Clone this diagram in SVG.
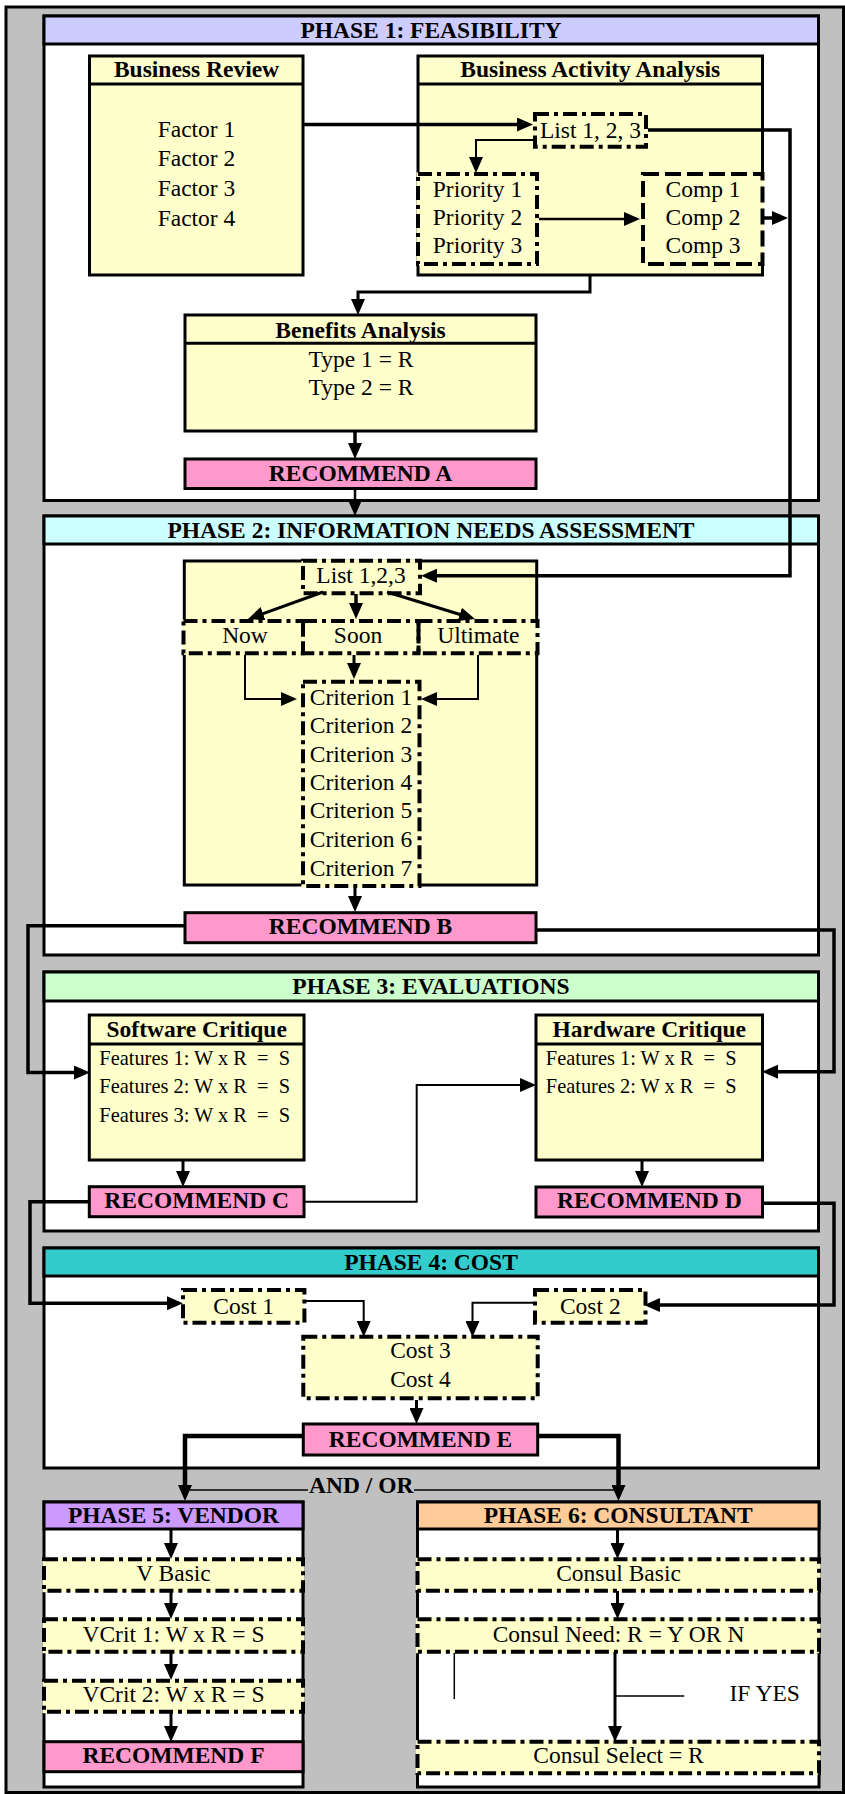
<svg xmlns="http://www.w3.org/2000/svg" width="845" height="1794" viewBox="0 0 845 1794">
<style>
  text { font-family: "Liberation Serif", "Times New Roman", serif; fill: #000; }
  .t { font-size: 23.5px; text-anchor: middle; }
  .b { font-size: 23.5px; font-weight: bold; text-anchor: middle; }
  .f { font-size: 20.4px; white-space: pre; }
  .frame { fill: #c0c0c0; stroke: #000; stroke-width: 3; }
  .phase { fill: #fff; stroke: #000; stroke-width: 3; }
  .box { fill: #ffffcc; stroke: #000; stroke-width: 3; }
  .rec { fill: #ff99cc; stroke: #000; stroke-width: 3; }
  .cover { fill: #ffffcc; }
  .dd { fill: #ffffcc; stroke: #000; stroke-width: 4; stroke-dasharray: 14 5 4 5; }
  .ddn { fill: none; stroke: #000; stroke-width: 4; stroke-dasharray: 14 5 4 5; }
  .ds { fill: none; stroke: #000; stroke-width: 4; stroke-dasharray: 16 6; }
  .sep { stroke: #000; stroke-width: 3; }
  .c { fill: none; stroke: #000; }
  .a { marker-end: url(#ah); }
  .k15 { stroke-width: 1.5; }
  .k2 { stroke-width: 2; }
  .k25 { stroke-width: 2.5; }
  .k3 { stroke-width: 3; }
  .k4 { stroke-width: 3.5; }
  .k45 { stroke-width: 4.5; }
</style>
<defs>
  <marker id="ah" viewBox="0 0 16 14" markerUnits="userSpaceOnUse" markerWidth="16" markerHeight="14" refX="8" refY="7" orient="auto">
    <path d="M0,0 L16,7 L0,14 Z" fill="#000"/>
  </marker>
</defs>

<!-- background frame -->
<rect class="frame" x="6" y="7" width="837.5" height="1785.5"/>

<!-- phase panels -->
<g id="phase1">
  <rect class="phase" x="44" y="16" width="774.5" height="484.5"/>
  <rect class="phase" x="44" y="16" width="774.5" height="28" style="fill:#ccccff"/>
  <text class="b" x="431" y="38.3">PHASE 1: FEASIBILITY</text>
</g>
<g id="phase2">
  <rect class="phase" x="44" y="516" width="774.5" height="439"/>
  <rect class="phase" x="44" y="516" width="774.5" height="28" style="fill:#ccffff"/>
  <text class="b" x="431" y="538">PHASE 2: INFORMATION NEEDS ASSESSMENT</text>
</g>
<g id="phase3">
  <rect class="phase" x="44" y="972" width="774.5" height="259"/>
  <rect class="phase" x="44" y="972" width="774.5" height="29" style="fill:#ccffcc"/>
  <text class="b" x="431" y="993.5">PHASE 3: EVALUATIONS</text>
</g>
<g id="phase4">
  <rect class="phase" x="44" y="1248" width="774.5" height="220"/>
  <rect class="phase" x="44" y="1248" width="774.5" height="28" style="fill:#33cccc"/>
  <text class="b" x="431" y="1269.5">PHASE 4: COST</text>
</g>
<g id="phase5">
  <rect class="phase" x="44" y="1502" width="259" height="285"/>
  <rect class="phase" x="44" y="1502" width="259" height="27" style="fill:#cc99ff"/>
  <text class="b" x="173.5" y="1522.7">PHASE 5: VENDOR</text>
</g>
<g id="phase6">
  <rect class="phase" x="417.5" y="1502" width="401.5" height="285"/>
  <rect class="phase" x="417.5" y="1502" width="401.5" height="27" style="fill:#ffcc99"/>
  <text class="b" x="618.2" y="1522.7">PHASE 6: CONSULTANT</text>
</g>

<!-- phase 1 nodes -->
<g id="business-review">
  <rect class="box" x="89.5" y="56" width="213.5" height="219"/>
  <line class="sep" x1="89.5" y1="84" x2="303" y2="84"/>
  <text class="b" x="196.5" y="77.3">Business Review</text>
  <text class="t" x="196.5" y="136.5">Factor 1</text>
  <text class="t" x="196.5" y="166.3">Factor 2</text>
  <text class="t" x="196.5" y="196.1">Factor 3</text>
  <text class="t" x="196.5" y="225.9">Factor 4</text>
</g>
<g id="business-activity">
  <rect class="box" x="418" y="56" width="344.5" height="219"/>
  <line class="sep" x1="418" y1="84" x2="762.5" y2="84"/>
  <text class="b" x="590.3" y="77.3">Business Activity Analysis</text>
</g>
<g id="list-a">
  <rect class="dd" x="535" y="114" width="111" height="32.7"/>
  <text class="t" x="590.5" y="138.3">List 1, 2, 3</text>
</g>
<g id="priority">
  <rect class="cover" x="416.5" y="172.5" width="122" height="93"/>
  <rect class="ddn" x="418" y="174" width="119" height="90"/>
  <text class="t" x="477.5" y="196.7">Priority 1</text>
  <text class="t" x="477.5" y="225">Priority 2</text>
  <text class="t" x="477.5" y="253.3">Priority 3</text>
</g>
<g id="comp">
  <rect class="cover" x="641.5" y="172.5" width="122.5" height="93"/>
  <rect class="ds" x="643" y="174" width="119.5" height="90"/>
  <text class="t" x="703" y="196.7">Comp 1</text>
  <text class="t" x="703" y="225">Comp 2</text>
  <text class="t" x="703" y="253.3">Comp 3</text>
</g>
<g id="benefits">
  <rect class="box" x="185" y="315" width="351" height="116"/>
  <line class="sep" x1="185" y1="343.3" x2="536" y2="343.3"/>
  <text class="b" x="360.5" y="338.3">Benefits Analysis</text>
  <text class="t" x="361" y="367.3">Type 1 = R</text>
  <text class="t" x="361" y="395">Type 2 = R</text>
</g>
<g id="recommend-a">
  <rect class="rec" x="185" y="459" width="351" height="29.5"/>
  <text class="b" x="360.5" y="480.7">RECOMMEND A</text>
</g>

<!-- phase 2 nodes -->
<g id="needs">
  <rect class="box" x="184.3" y="561" width="352.4" height="324"/>
</g>
<g id="list-b">
  <rect class="cover" x="301.5" y="559.2" width="120" height="35.6"/>
  <rect class="ddn" x="303" y="560.7" width="117" height="32.6"/>
  <text class="t" x="361" y="582.7">List 1,2,3</text>
</g>
<g id="horizon">
  <rect class="cover" x="182" y="619.5" width="357" height="35.3"/>
  <rect class="ddn" x="183.5" y="621" width="119.5" height="32.3"/>
  <rect class="ddn" x="303" y="621" width="115.5" height="32.3"/>
  <rect class="ddn" x="418.5" y="621" width="119" height="32.3"/>
  <text class="t" x="245" y="643.3">Now</text>
  <text class="t" x="358" y="643.3">Soon</text>
  <text class="t" x="478.3" y="643.3">Ultimate</text>
</g>
<g id="criteria">
  <rect class="cover" x="301.5" y="680.2" width="119.5" height="207.3"/>
  <rect class="ddn" x="303" y="681.7" width="116.5" height="204.3"/>
  <text class="t" x="361" y="705">Criterion 1</text>
  <text class="t" x="361" y="733.3">Criterion 2</text>
  <text class="t" x="361" y="761.7">Criterion 3</text>
  <text class="t" x="361" y="790">Criterion 4</text>
  <text class="t" x="361" y="818.3">Criterion 5</text>
  <text class="t" x="361" y="847">Criterion 6</text>
  <text class="t" x="361" y="875.5">Criterion 7</text>
</g>
<g id="recommend-b">
  <rect class="rec" x="185" y="912.7" width="351" height="30"/>
  <text class="b" x="360.5" y="934">RECOMMEND B</text>
</g>

<!-- phase 3 nodes -->
<g id="software">
  <rect class="box" x="89.3" y="1015" width="214.7" height="145"/>
  <line class="sep" x1="89.3" y1="1044" x2="304" y2="1044"/>
  <text class="b" x="196.7" y="1037.3">Software Critique</text>
  <text class="f" x="99.3" y="1065" xml:space="preserve">Features 1: W x R  =  S</text>
  <text class="f" x="99.3" y="1093.3" xml:space="preserve">Features 2: W x R  =  S</text>
  <text class="f" x="99.3" y="1121.7" xml:space="preserve">Features 3: W x R  =  S</text>
</g>
<g id="hardware">
  <rect class="box" x="536" y="1015" width="226.5" height="145"/>
  <line class="sep" x1="536" y1="1044" x2="762.5" y2="1044"/>
  <text class="b" x="649.3" y="1037.3">Hardware Critique</text>
  <text class="f" x="545.8" y="1065" xml:space="preserve">Features 1: W x R  =  S</text>
  <text class="f" x="545.8" y="1093.3" xml:space="preserve">Features 2: W x R  =  S</text>
</g>
<g id="recommend-c">
  <rect class="rec" x="89.3" y="1186.7" width="214.7" height="30"/>
  <text class="b" x="196.7" y="1208.3">RECOMMEND C</text>
</g>
<g id="recommend-d">
  <rect class="rec" x="536" y="1187" width="226.5" height="30"/>
  <text class="b" x="649.3" y="1208.3">RECOMMEND D</text>
</g>

<!-- phase 4 nodes -->
<g id="cost1">
  <rect class="dd" x="183" y="1290" width="121.4" height="32.7"/>
  <text class="t" x="243.7" y="1314">Cost 1</text>
</g>
<g id="cost2">
  <rect class="dd" x="535" y="1290" width="110.5" height="32.7"/>
  <text class="t" x="590.3" y="1314">Cost 2</text>
</g>
<g id="cost34">
  <rect class="dd" x="303.3" y="1336.7" width="234.4" height="61.6"/>
  <text class="t" x="420.5" y="1358.3">Cost 3</text>
  <text class="t" x="420.5" y="1386.7">Cost 4</text>
</g>
<g id="recommend-e">
  <rect class="rec" x="303.3" y="1424" width="234.4" height="31"/>
  <text class="b" x="420.5" y="1446.7">RECOMMEND E</text>
</g>
<g id="and-or">
  <text class="b" x="361.3" y="1493.3">AND / OR</text>
</g>

<!-- phase 5 nodes -->
<g id="v-basic">
  <rect class="cover" x="42.5" y="1557.8" width="262" height="34.4"/>
  <rect class="ddn" x="44" y="1559.3" width="259" height="31.4"/>
  <text class="t" x="173.5" y="1580.7">V Basic</text>
</g>
<g id="vcrit1">
  <rect class="cover" x="42.5" y="1617.8" width="262" height="35.4"/>
  <rect class="ddn" x="44" y="1619.3" width="259" height="32.4"/>
  <text class="t" x="173.5" y="1641.7">VCrit 1: W x R = S</text>
</g>
<g id="vcrit2">
  <rect class="cover" x="42.5" y="1679.2" width="262" height="34"/>
  <rect class="ddn" x="44" y="1680.7" width="259" height="31"/>
  <text class="t" x="173.5" y="1701.7">VCrit 2: W x R = S</text>
</g>
<g id="recommend-f">
  <rect class="rec" x="44" y="1741.7" width="259" height="30"/>
  <text class="b" x="173.5" y="1763.3">RECOMMEND F</text>
</g>

<!-- phase 6 nodes -->
<g id="consul-basic">
  <rect class="cover" x="416" y="1557.8" width="404.5" height="34.4"/>
  <rect class="ddn" x="417.5" y="1559.3" width="401.5" height="31.4"/>
  <text class="t" x="618.5" y="1580.7">Consul Basic</text>
</g>
<g id="consul-need">
  <rect class="cover" x="416" y="1617.8" width="404.5" height="35.4"/>
  <rect class="ddn" x="417.5" y="1619.3" width="401.5" height="32.4"/>
  <text class="t" x="618.5" y="1641.7">Consul Need: R = Y OR N</text>
</g>
<g id="if-yes">
  <text class="t" x="764.7" y="1700.7">IF YES</text>
</g>
<g id="consul-select">
  <rect class="cover" x="416" y="1740.2" width="404.5" height="34.6"/>
  <rect class="ddn" x="417.5" y="1741.7" width="401.5" height="31.6"/>
  <text class="t" x="618.5" y="1763">Consul Select = R</text>
</g>

<!-- connectors -->
<g id="connectors">
  <path class="c a k4" d="M303,124.5 H525"/>
  <path class="c a k2" d="M533,140 H476 V165"/>
  <path class="c a k25" d="M539,219 H632"/>
  <path class="c a k4" d="M764,218 H780"/>
  <path class="c a k4" d="M648,130 H790 V575.7 H429"/>
  <path class="c a k3" d="M590,276 V292 H358 V307"/>
  <path class="c a k4" d="M355,432 V451"/>
  <path class="c a k25" d="M355,489 V508"/>

  <path class="c a k3" d="M323,592 L255.5,616.3"/>
  <path class="c a k4" d="M356,594 V611"/>
  <path class="c a k3" d="M387,592 L467.4,616.7"/>
  <path class="c a k3" d="M354,655 V671"/>
  <path class="c a k2" d="M245,655 V699 H289"/>
  <path class="c a k2" d="M478,655 V699 H429"/>
  <path class="c a k3" d="M355,888 V904"/>
  <path class="c a k4" d="M185,925.7 H28 V1072.5 H82"/>
  <path class="c a k4" d="M536,930 H834 V1071.7 H770"/>

  <path class="c a k3" d="M183,1161 V1179"/>
  <path class="c a k3" d="M642,1161 V1179"/>
  <path class="c a k4" d="M89,1201.7 H30 V1303.3 H175"/>
  <path class="c a k2" d="M304,1201.7 H416.7 V1085 H528"/>
  <path class="c a k4" d="M762,1203.3 H834 V1305 H652"/>

  <path class="c a k2" d="M306,1301 H363.7 V1329"/>
  <path class="c a k2" d="M533,1302.7 H472.5 V1329"/>
  <path class="c a k3" d="M416.5,1400 V1416"/>
  <path class="c a k45" d="M303,1436 H185 V1493"/>
  <path class="c a k45" d="M537.7,1436 H618.5 V1493"/>
  <path class="c k15" d="M185,1490 H308 M414,1490 H618"/>

  <path class="c a k3" d="M171,1529 V1551"/>
  <path class="c a k3" d="M171,1591 V1611"/>
  <path class="c a k3" d="M171,1652 V1672"/>
  <path class="c a k3" d="M171,1712 V1734"/>

  <path class="c a k3" d="M617.5,1529 V1551"/>
  <path class="c a k3" d="M617.5,1591 V1611"/>
  <path class="c a k3" d="M615,1652 V1734"/>
  <path class="c k15" d="M454.3,1653 V1699 M615,1696 H684.3"/>
</g>
</svg>
